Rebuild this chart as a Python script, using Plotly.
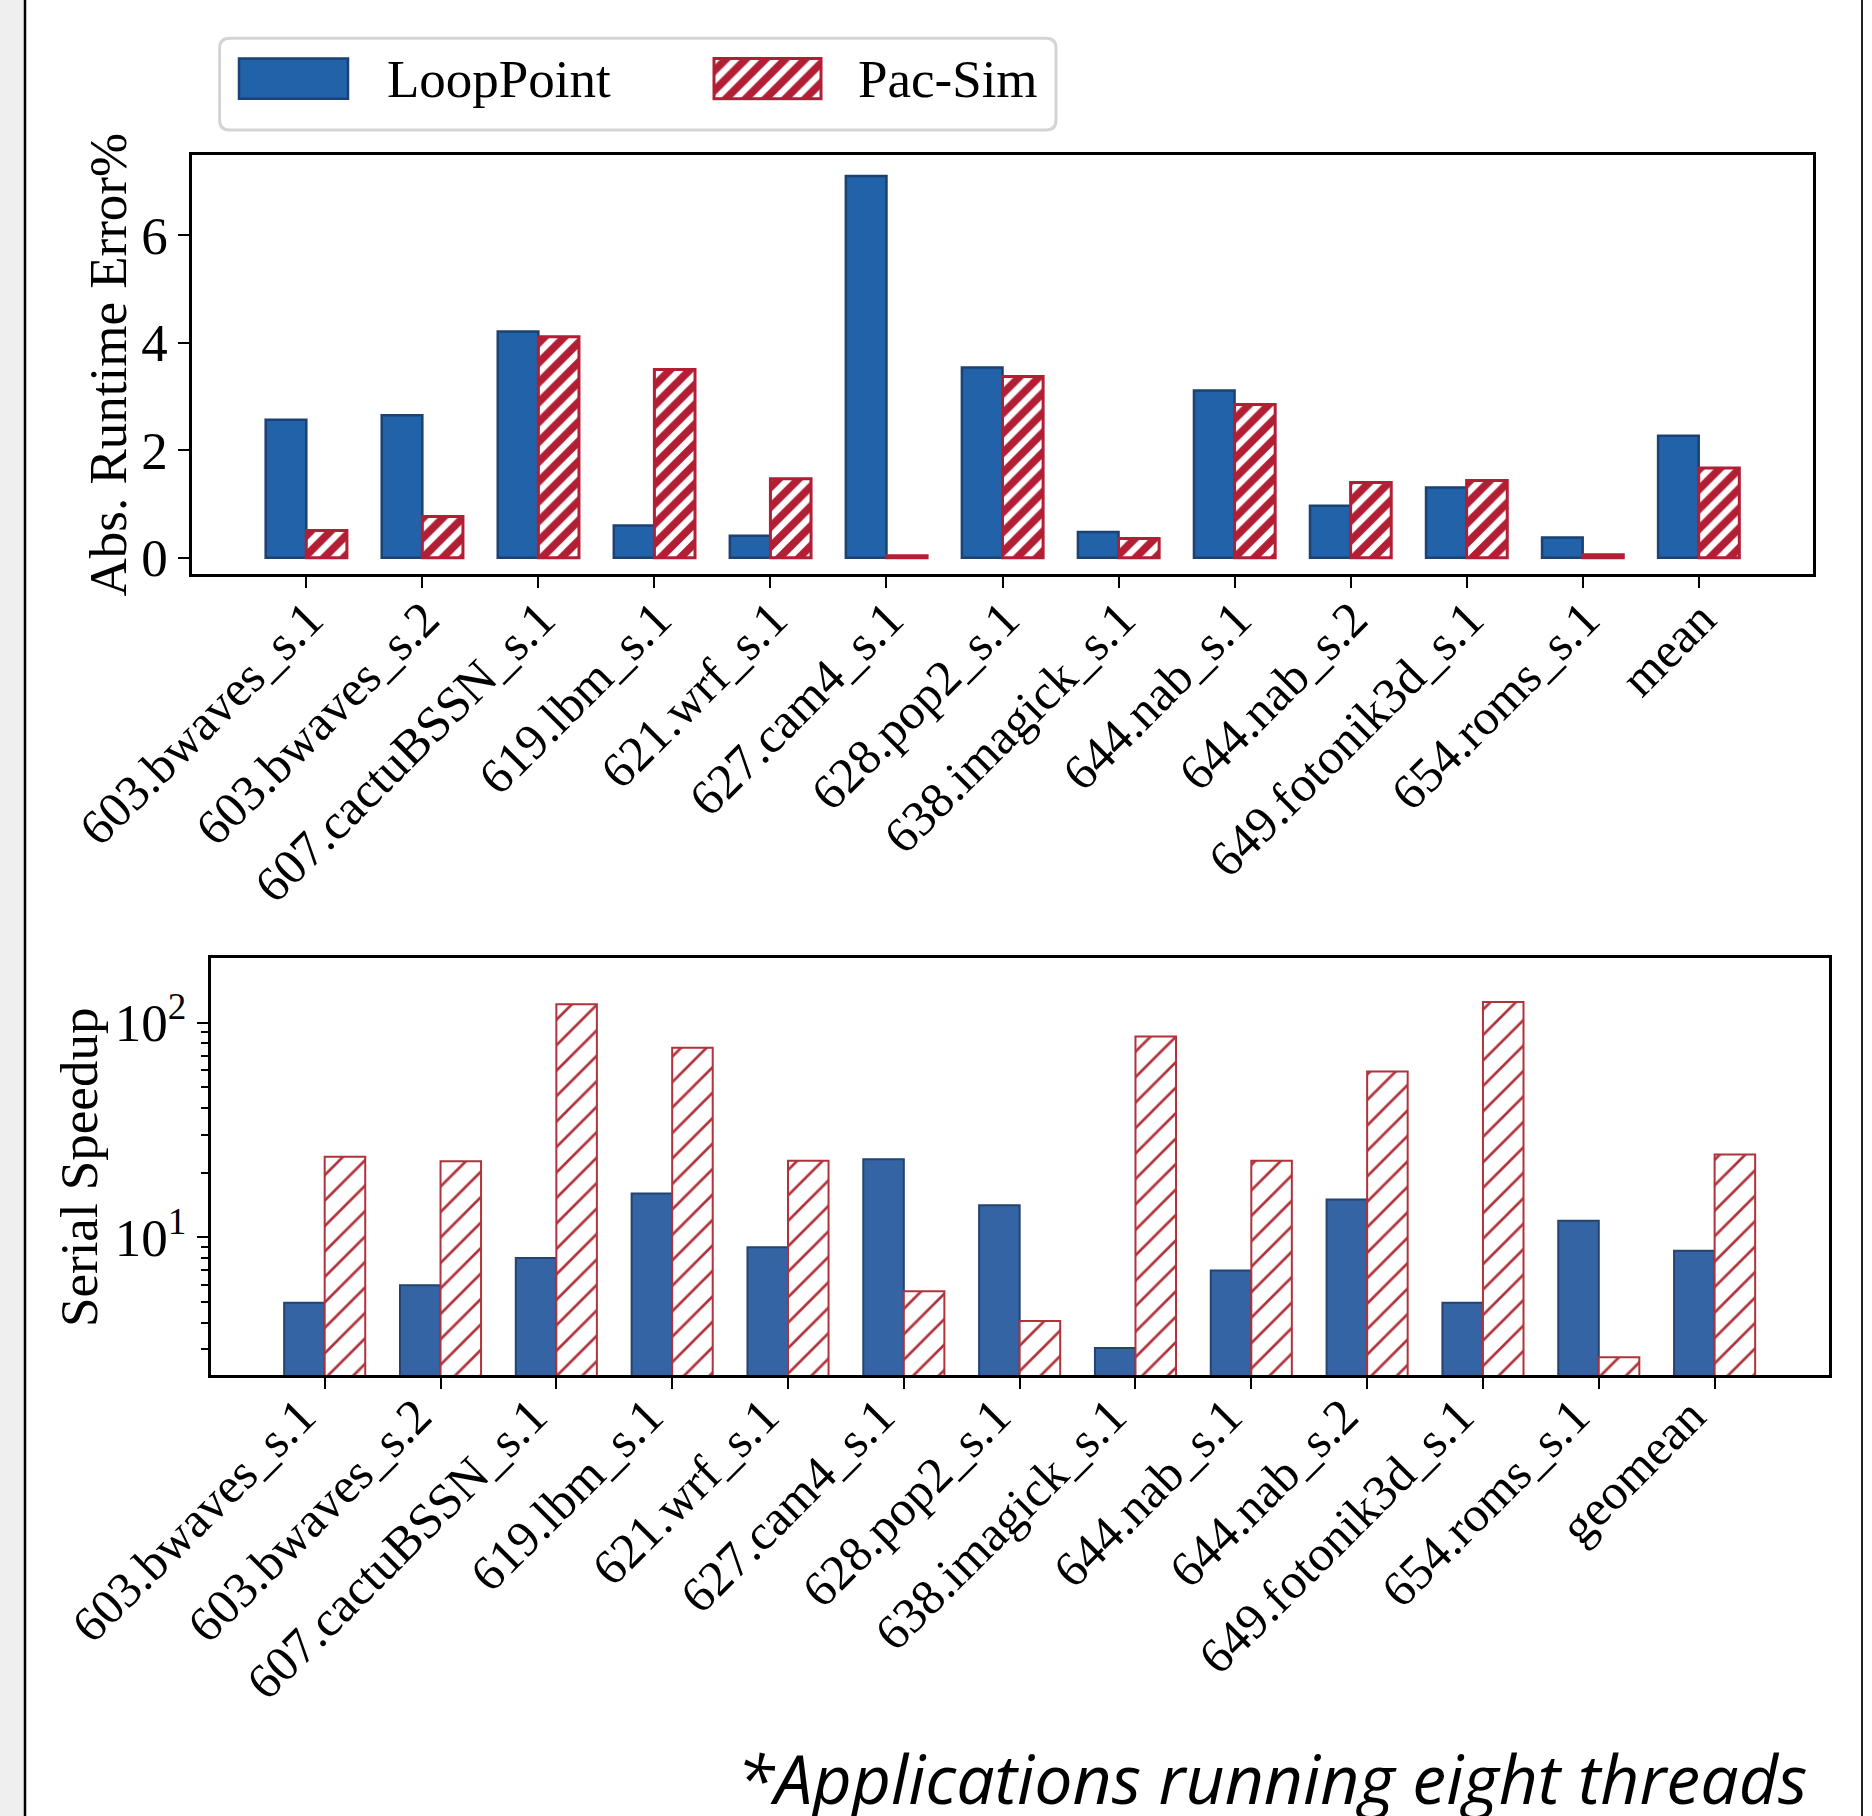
import plotly.graph_objects as go

# Canvas size in pixels
W, H = 1872, 1816

# ---- data -------------------------------------------------------------
benchmarks = [
    "603.bwaves_s.1", "603.bwaves_s.2", "607.cactuBSSN_s.1", "619.lbm_s.1",
    "621.wrf_s.1", "627.cam4_s.1", "628.pop2_s.1", "638.imagick_s.1",
    "644.nab_s.1", "644.nab_s.2", "649.fotonik3d_s.1", "654.roms_s.1",
]
error_labels = benchmarks + ["mean"]
speedup_labels = benchmarks + ["geomean"]

# Absolute runtime error (%)
error_looppoint = [2.57, 2.65, 4.21, 0.60, 0.41, 7.10, 3.54, 0.48, 3.11, 0.97, 1.31, 0.38, 2.27]
error_pacsim = [0.51, 0.77, 4.11, 3.50, 1.47, 0.04, 3.37, 0.36, 2.85, 1.40, 1.44, 0.06, 1.67]

# Serial speedup (log scale)
speedup_looppoint = [4.95, 5.98, 8.0, 16.0, 8.98, 23.1, 14.1, 3.05, 7.0, 15.0, 4.95, 11.95, 8.66]
speedup_pacsim = [23.7, 22.6, 122.0, 76.5, 22.7, 5.6, 4.07, 86.3, 22.7, 59.2, 124.9, 2.76, 24.3]

series_names = ["LoopPoint", "Pac-Sim"]
error_ticks = [0, 2, 4, 6]
speedup_ticks = [10, 100]
speedup_ticktext = ["10<sup>1</sup>", "10<sup>2</sup>"]
speedup_minor_ticks = [3, 4, 5, 6, 7, 8, 9, 20, 30, 40, 50, 60, 70, 80, 90, 200]
footnote = "*Applications running eight threads"
error_title = "Abs. Runtime Error%"
speedup_title = "Serial Speedup"

# ---- styling ----------------------------------------------------------
SERIF = "Liberation Serif"
FS = 53
FS_X = 50
BLUE_TOP, BLUE_TOP_EDGE = "#2262a8", "#1b4272"
RED_TOP = "#b21e34"
BLUE_BOT, BLUE_BOT_EDGE = "#3464a4", "#24436e"
RED_BOT = "#b0333b"
BAR_W = 0.35

top_hatch = dict(shape="/", fgcolor=RED_TOP, bgcolor="white",
                 size=14, solidity=0.55, fgopacity=1)
bot_hatch = dict(shape="/", fgcolor=RED_BOT, bgcolor="white",
                 size=18, solidity=0.15, fgopacity=1)


def fx(p):
    return p / W


def fy(p):
    return 1 - p / H


fig = go.Figure()

# Top panel: runtime error
fig.add_trace(go.Bar(
    x=error_labels, y=error_looppoint, name=series_names[0],
    width=BAR_W, offset=-BAR_W,
    marker=dict(color=BLUE_TOP, line=dict(color=BLUE_TOP_EDGE, width=2.5)),
    xaxis="x", yaxis="y", showlegend=False,
))
fig.add_trace(go.Bar(
    x=error_labels, y=error_pacsim, name=series_names[1],
    width=BAR_W, offset=0,
    marker=dict(color="white", line=dict(color=RED_TOP, width=3), pattern=top_hatch),
    xaxis="x", yaxis="y", showlegend=False,
))

# Bottom panel: serial speedup
fig.add_trace(go.Bar(
    x=speedup_labels, y=speedup_looppoint, name=series_names[0],
    width=BAR_W, offset=-BAR_W,
    marker=dict(color=BLUE_BOT, line=dict(color=BLUE_BOT_EDGE, width=2)),
    xaxis="x2", yaxis="y2", showlegend=False,
))
fig.add_trace(go.Bar(
    x=speedup_labels, y=speedup_pacsim, name=series_names[1],
    width=BAR_W, offset=0,
    marker=dict(color="white", line=dict(color=RED_BOT, width=2), pattern=bot_hatch),
    xaxis="x2", yaxis="y2", showlegend=False,
))

# Legend swatches, each drawn in its own small axis
fig.add_trace(go.Bar(
    x=[0], y=[1], width=1,
    marker=dict(color=BLUE_TOP, line=dict(color=BLUE_TOP_EDGE, width=2.5)),
    xaxis="x3", yaxis="y3", showlegend=False, hoverinfo="skip",
))
fig.add_trace(go.Bar(
    x=[0], y=[1], width=1,
    marker=dict(color="white", line=dict(color=RED_TOP, width=3), pattern=top_hatch),
    xaxis="x4", yaxis="y4", showlegend=False, hoverinfo="skip",
))

axis_common = dict(
    showline=True, linecolor="black", linewidth=2.5, mirror=True,
    ticks="outside", ticklen=11, tickwidth=2, tickcolor="black",
    showgrid=False, zeroline=False, automargin=False,
    tickfont=dict(family=SERIF, size=FS, color="black"),
)
xcat_common = dict(axis_common, type="category", range=[-0.985, 12.985],
                   tickangle=-45,
                   tickfont=dict(family=SERIF, size=FS_X, color="black"))
swatch_axis = dict(showline=False, showgrid=False, zeroline=False,
                   showticklabels=False, ticks="", fixedrange=True,
                   automargin=False)


def swatch_domain(x0, x1, y0, y1):
    pad_x = (x1 - x0) * 0.05
    pad_y = (y1 - y0) * 0.05
    return ([fx(x0 - pad_x), fx(x1 + pad_x)], [fy(y1 + pad_y), fy(y0 - pad_y)])


lp_dx, lp_dy = swatch_domain(239, 348, 58.6, 98.7)
ps_dx, ps_dy = swatch_domain(714, 821, 58.6, 98.7)

fig.update_layout(
    width=W, height=H,
    margin=dict(l=0, r=0, t=0, b=0, autoexpand=False),
    paper_bgcolor="white", plot_bgcolor="white",
    barmode="overlay",
    font=dict(family=SERIF, size=FS, color="black"),
    xaxis=dict(xcat_common, domain=[fx(192), fx(1813)], anchor="y",
               ticklabelstandoff=-18, ticklabelshift=2),
    yaxis=dict(axis_common, domain=[fy(574), fy(155)], range=[-0.3, 7.49],
               tickvals=error_ticks, anchor="x"),
    xaxis2=dict(xcat_common, domain=[fx(210.6), fx(1828.7)], anchor="y2",
                ticklabelstandoff=-22, ticklabelshift=-24),
    yaxis2=dict(axis_common, domain=[fy(1375), fy(958.3)], type="log",
                range=[0.358, 2.300], tickvals=speedup_ticks,
                ticktext=speedup_ticktext, anchor="x2",
                minor=dict(ticks="outside", ticklen=7, tickwidth=2,
                           tickcolor="black", showgrid=False,
                           tickmode="array", tickvals=speedup_minor_ticks)),
    xaxis3=dict(swatch_axis, domain=lp_dx, range=[-0.55, 0.55], anchor="y3"),
    yaxis3=dict(swatch_axis, domain=lp_dy, range=[-0.05, 1.05], anchor="x3"),
    xaxis4=dict(swatch_axis, domain=ps_dx, range=[-0.55, 0.55], anchor="y4"),
    yaxis4=dict(swatch_axis, domain=ps_dy, range=[-0.05, 1.05], anchor="x4"),
)

# Legend frame with rounded corners
lx0, lx1, ly0, ly1 = fx(219.6), fx(1056), fy(130), fy(38.3)
rx, ry = 10 / W, 10 / H
legend_path = (
    f"M{lx0 + rx},{ly1} L{lx1 - rx},{ly1} Q{lx1},{ly1} {lx1},{ly1 - ry} "
    f"L{lx1},{ly0 + ry} Q{lx1},{ly0} {lx1 - rx},{ly0} "
    f"L{lx0 + rx},{ly0} Q{lx0},{ly0} {lx0},{ly0 + ry} "
    f"L{lx0},{ly1 - ry} Q{lx0},{ly1} {lx0 + rx},{ly1} Z"
)

shapes = [
    dict(type="rect", xref="paper", yref="paper", x0=0, x1=fx(24), y0=0, y1=1,
         fillcolor="#efefef", line=dict(width=0), layer="below"),
    dict(type="line", xref="paper", yref="paper", x0=fx(25), x1=fx(25), y0=0, y1=1,
         line=dict(color="black", width=2.5)),
    dict(type="line", xref="paper", yref="paper", x0=fx(1862), x1=fx(1862), y0=0, y1=1,
         line=dict(color="#222222", width=2)),
    dict(type="path", xref="paper", yref="paper", path=legend_path,
         fillcolor="white", line=dict(color="#d4d4d4", width=3), layer="below"),
]
fig.update_layout(shapes=shapes)

annotations = [
    dict(text=series_names[0], x=fx(385), y=fy(79), xanchor="left", yanchor="middle"),
    dict(text=series_names[1], x=fx(856), y=fy(79), xanchor="left", yanchor="middle"),
    dict(text=error_title, x=fx(107), y=fy(364.5), textangle=-90,
         xanchor="center", yanchor="middle"),
    dict(text=speedup_title, x=fx(79), y=fy(1168), textangle=-90,
         xanchor="center", yanchor="middle"),
    dict(text=f"<i>{footnote}</i>", x=fx(1809), y=fy(1777), xanchor="right",
         yanchor="middle", font=dict(family="Open Sans", size=68, color="black")),
]
for a in annotations:
    a.setdefault("font", dict(family=SERIF, size=FS, color="black"))
    a.update(xref="paper", yref="paper", showarrow=False)
fig.update_layout(annotations=annotations)

fig.write_html("out.html")
